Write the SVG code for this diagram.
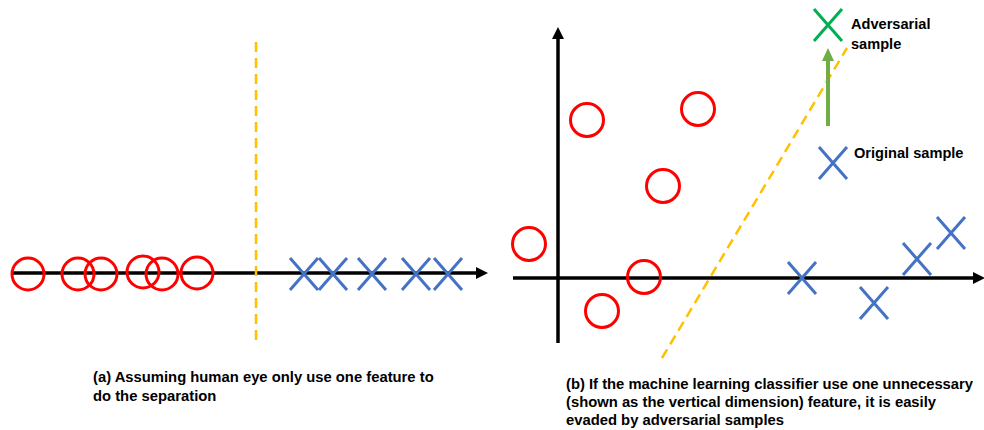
<svg xmlns="http://www.w3.org/2000/svg" width="984" height="430" viewBox="0 0 984 430">
<style>
.o{fill:none;stroke:#FF0000;stroke-width:3}
.x{fill:none;stroke:#4472C4;stroke-width:3}
.g{fill:none;stroke:#00B050;stroke-width:3}
.ax{fill:none;stroke:#000;stroke-width:3.5}
.ah{fill:#000}
.dash{fill:none;stroke:#FFC000;stroke-width:2.5;stroke-dasharray:10 6}
.t{font-family:"Liberation Sans",Arial,sans-serif;font-weight:bold;font-size:14.8px;fill:#000}
.lb{font-family:"Liberation Sans",Arial,sans-serif;font-weight:bold;font-size:14.6px;fill:#000}
</style>
<defs>
<path id="cross" d="M-14,-16 L14,16 M-14,16 L14,-16"/>
</defs>
<g id="connectors">
<line class="ax" x1="12" y1="273" x2="478" y2="273"/>
<polygon class="ah" points="488,273 476,267 476,279"/>
<line class="dash" x1="256" y1="42" x2="256" y2="346"/>
<line class="ax" x1="558" y1="343" x2="558" y2="38"/>
<polygon class="ah" points="558,27 552,39 564,39"/>
<line class="ax" x1="513" y1="278" x2="974" y2="278"/>
<polygon class="ah" points="985,278 973,272 973,284"/>
<line class="dash" x1="662" y1="358" x2="847" y2="48"/>
<line x1="828" y1="126" x2="828" y2="60" stroke="#70AD47" stroke-width="4"/>
<polygon points="828,48 822,61 834,61" fill="#70AD47"/>
</g>
<g id="left-circles">
<circle class="o" cx="28" cy="274" r="16"/>
<circle class="o" cx="78" cy="274" r="16"/>
<circle class="o" cx="101" cy="274" r="16"/>
<circle class="o" cx="143" cy="272" r="16"/>
<circle class="o" cx="162" cy="274" r="16"/>
<circle class="o" cx="197" cy="273" r="16"/>
</g>
<g id="left-crosses">
<use class="x" href="#cross" x="304" y="274"/>
<use class="x" href="#cross" x="333" y="274"/>
<use class="x" href="#cross" x="372" y="274"/>
<use class="x" href="#cross" x="416" y="274"/>
<use class="x" href="#cross" x="448" y="274"/>
</g>
<g id="right-circles">
<circle class="o" cx="587" cy="120" r="16.5"/>
<circle class="o" cx="698" cy="109" r="16.5"/>
<circle class="o" cx="663" cy="186" r="16.5"/>
<circle class="o" cx="529" cy="244" r="16.5"/>
<circle class="o" cx="644" cy="277" r="16.5"/>
<circle class="o" cx="602" cy="311" r="16.5"/>
</g>
<g id="right-crosses">
<use class="x" href="#cross" x="802" y="278"/>
<use class="x" href="#cross" x="874" y="303"/>
<use class="x" href="#cross" x="917" y="259"/>
<use class="x" href="#cross" x="951" y="233"/>
</g>
<g id="original-sample">
<use class="x" href="#cross" x="833" y="163"/>
<text class="lb" x="854" y="158">Original sample</text>
</g>
<g id="adversarial-sample">
<use class="g" href="#cross" x="828" y="25"/>
<text class="lb" x="851" y="29">Adversarial</text>
<text class="lb" x="851" y="49">sample</text>
</g>
<g id="caption-a">
<text class="t" x="93" y="382">(a) Assuming human eye only use one feature to</text>
<text class="t" x="93" y="401">do the separation</text>
</g>
<g id="caption-b">
<text class="t" x="566" y="389">(b) If the machine learning classifier use one unnecessary</text>
<text class="t" x="566" y="407">(shown as the vertical dimension) feature, it is easily</text>
<text class="t" x="566" y="425">evaded by adversarial samples</text>
</g>
</svg>
